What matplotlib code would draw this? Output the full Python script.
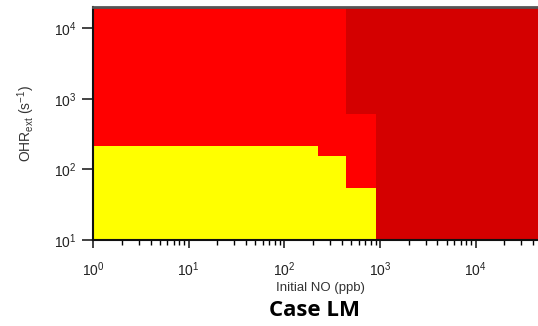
import numpy as np
import matplotlib
matplotlib.use("Agg")
import matplotlib.pyplot as plt
from matplotlib.colors import ListedColormap

plt.rcParams['font.family'] = ['Liberation Sans', 'DejaVu Sans']
plt.rcParams['mathtext.fontset'] = 'custom'
plt.rcParams['mathtext.rm'] = 'Liberation Sans'
plt.rcParams['mathtext.it'] = 'Liberation Sans:italic'

# regime map: 0 = yellow, 1 = red, 2 = dark red
no_edges = [1, 224, 447, 900, 4.5e4]        # initial NO (ppb)
ohr_edges = [10, 54, 153, 213, 600, 2.0e4]  # OHRext (s-1)
regime = [
    [0, 0, 0, 2],
    [0, 0, 1, 2],
    [0, 1, 1, 2],
    [1, 1, 1, 2],
    [1, 1, 2, 2],
]
colors = ['#FFFF00', '#FF0000', '#D40000']

fig = plt.figure(figsize=(5.38, 3.26), dpi=100)
ax = fig.add_axes([0.1729, 0.2638, 0.8271, 0.7147])

ax.pcolormesh(no_edges, ohr_edges, np.array(regime), cmap=ListedColormap(colors),
              vmin=-0.5, vmax=2.5, shading='flat')
ax.set_xscale('log')
ax.set_yscale('log')
ax.set_xlim(no_edges[0], no_edges[-1])
ax.set_ylim(ohr_edges[0], ohr_edges[-1])

ax.yaxis.set_minor_locator(matplotlib.ticker.NullLocator())
ax.tick_params(axis='both', which='major', direction='out', width=1.2,
               labelsize=10, colors='#222222')
ax.tick_params(axis='x', which='major', length=6, pad=9)
ax.tick_params(axis='x', which='minor', direction='out', length=3.5, width=1)
ax.tick_params(axis='y', which='major', length=8, pad=4)

for s in ['left', 'bottom']:
    ax.spines[s].set_linewidth(1.5)
    ax.spines[s].set_color('#111111')
ax.spines['top'].set_color('#555555')
ax.spines['top'].set_linewidth(2)
ax.spines['right'].set_visible(False)

ax.set_ylabel(r'OHR$_{\rm ext}$ (s$^{-1}$)', fontsize=10, color='#333333', labelpad=12)
fig.text(0.595, 0.118, 'Initial NO (ppb)', ha='center', va='center', fontsize=9.5, color='#333333')
fig.text(0.585, 0.048, 'Case LM', ha='center', va='center', fontsize=16,
         fontweight='bold', family=['Open Sans', 'DejaVu Sans'])

fig.savefig('out.png', dpi=100)
